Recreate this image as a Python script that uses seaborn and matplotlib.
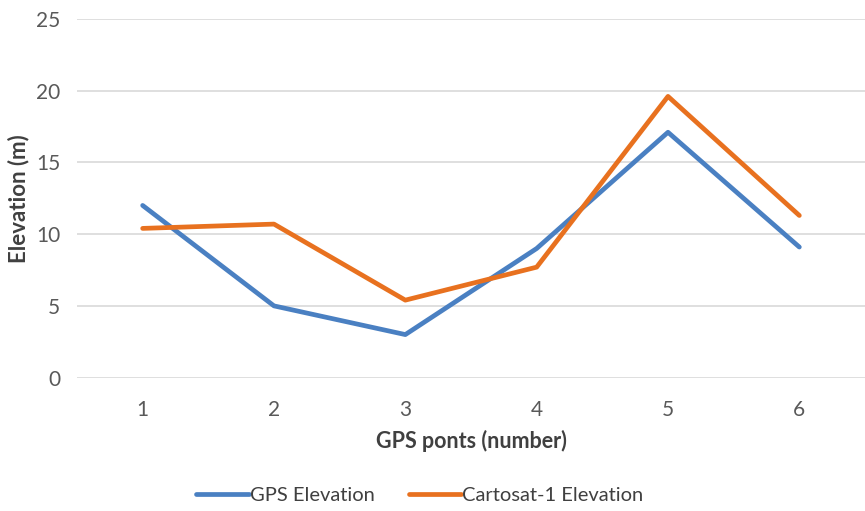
import matplotlib
matplotlib.use("Agg")
import matplotlib.pyplot as plt
import seaborn as sns
import pandas as pd

points = [1, 2, 3, 4, 5, 6]
gps_elevation = [12.0, 5.0, 3.0, 9.0, 17.1, 9.1]
cartosat_elevation = [10.4, 10.7, 5.4, 7.7, 19.6, 11.3]
series_names = ["GPS Elevation", "Cartosat-1 Elevation"]
y_ticks = [0, 5, 10, 15, 20, 25]

df = pd.DataFrame({
    "point": points * 2,
    "elevation": gps_elevation + cartosat_elevation,
    "series": [series_names[0]] * len(points) + [series_names[1]] * len(points),
})

sns.set_theme(style="white")
plt.rcParams["font.family"] = ["Lato", "DejaVu Sans"]

fig = plt.figure(figsize=(8.65, 5.11), dpi=100)
ax = fig.add_axes([0.089, 0.261, 0.911, 0.702])

palette = {series_names[0]: "#4A80C2", series_names[1]: "#E8711F"}
sns.lineplot(data=df, x="point", y="elevation", hue="series", palette=palette,
             linewidth=3.4, ax=ax, legend=True)

ax.set_xlim(0.5, 6.5)
ax.set_ylim(0, 25)
ax.set_yticks(y_ticks)
ax.set_xticks(points)
ax.yaxis.grid(True, color="#D9D9D9", linewidth=1.2)
ax.set_axisbelow(True)
for s in ax.spines.values():
    s.set_visible(False)
ax.tick_params(axis="both", labelsize=15, colors="#595959", length=0)
ax.tick_params(axis="x", pad=16)
ax.tick_params(axis="y", pad=12)

ax.set_xlabel("GPS ponts (number)", fontsize=15.5, fontweight="bold", color="#404040", labelpad=7)
ax.set_ylabel("Elevation (m)", fontsize=16, fontweight="bold", color="#404040", labelpad=5)

handles, labels = ax.get_legend_handles_labels()
ax.legend(handles, labels, loc="upper center", bbox_to_anchor=(0.435, -0.255),
          ncol=2, frameon=False, fontsize=14.5, handlelength=2.6,
          columnspacing=1.7, handletextpad=0.05, labelcolor="#404040")

fig.savefig("out.png", dpi=100)
